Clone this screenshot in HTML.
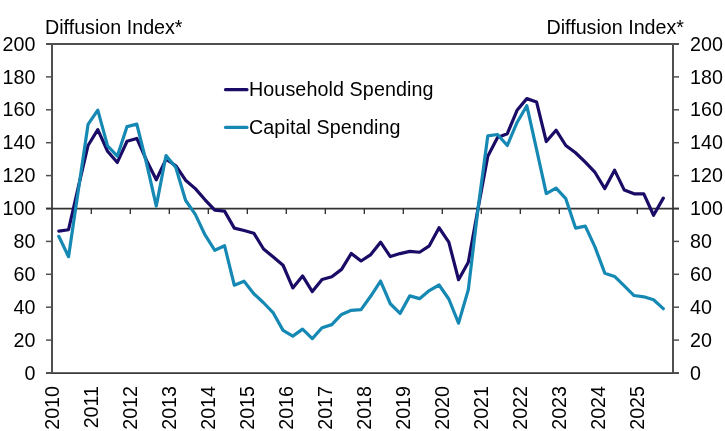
<!DOCTYPE html>
<html><head><meta charset="utf-8"><style>
html,body{margin:0;padding:0;background:#fff;width:725px;height:431px;overflow:hidden}
svg{display:block;position:absolute;left:0;top:0;will-change:transform}
text{font-family:"Liberation Sans",sans-serif;font-size:19.7px;fill:#000}
.yl{font-size:19.7px}
.xl{position:absolute;top:386px;transform-origin:0 0;transform:rotate(-90deg);font-family:"Liberation Sans",sans-serif;font-size:19.7px;line-height:1;white-space:nowrap;will-change:transform}
.xl span{display:inline-block;transform:translateX(-100%)}
</style></head><body>
<svg width="725" height="431" viewBox="0 0 725 431">
<line x1="46" y1="44" x2="679" y2="44" stroke="#505050" stroke-width="2"/>
<line x1="46" y1="373.2" x2="679" y2="373.2" stroke="#3A3A3A" stroke-width="1.7"/>
<line x1="52" y1="44" x2="52" y2="373" stroke="#505050" stroke-width="2"/>
<line x1="673" y1="44" x2="673" y2="373" stroke="#505050" stroke-width="2"/>
<line x1="46" y1="373.00" x2="52" y2="373.00" stroke="#505050" stroke-width="1.5"/>
<line x1="673" y1="373.00" x2="679" y2="373.00" stroke="#505050" stroke-width="1.5"/>
<text class="yl" transform="translate(35.4,379.60) scale(1,1.05)" text-anchor="end">0</text>
<text class="yl" transform="translate(690,379.60) scale(1,1.05)">0</text>
<line x1="46" y1="340.10" x2="52" y2="340.10" stroke="#505050" stroke-width="1.5"/>
<line x1="673" y1="340.10" x2="679" y2="340.10" stroke="#505050" stroke-width="1.5"/>
<text class="yl" transform="translate(35.4,346.70) scale(1,1.05)" text-anchor="end">20</text>
<text class="yl" transform="translate(690,346.70) scale(1,1.05)">20</text>
<line x1="46" y1="307.20" x2="52" y2="307.20" stroke="#505050" stroke-width="1.5"/>
<line x1="673" y1="307.20" x2="679" y2="307.20" stroke="#505050" stroke-width="1.5"/>
<text class="yl" transform="translate(35.4,313.80) scale(1,1.05)" text-anchor="end">40</text>
<text class="yl" transform="translate(690,313.80) scale(1,1.05)">40</text>
<line x1="46" y1="274.30" x2="52" y2="274.30" stroke="#505050" stroke-width="1.5"/>
<line x1="673" y1="274.30" x2="679" y2="274.30" stroke="#505050" stroke-width="1.5"/>
<text class="yl" transform="translate(35.4,280.90) scale(1,1.05)" text-anchor="end">60</text>
<text class="yl" transform="translate(690,280.90) scale(1,1.05)">60</text>
<line x1="46" y1="241.40" x2="52" y2="241.40" stroke="#505050" stroke-width="1.5"/>
<line x1="673" y1="241.40" x2="679" y2="241.40" stroke="#505050" stroke-width="1.5"/>
<text class="yl" transform="translate(35.4,248.00) scale(1,1.05)" text-anchor="end">80</text>
<text class="yl" transform="translate(690,248.00) scale(1,1.05)">80</text>
<line x1="46" y1="208.50" x2="52" y2="208.50" stroke="#505050" stroke-width="1.5"/>
<line x1="673" y1="208.50" x2="679" y2="208.50" stroke="#505050" stroke-width="1.5"/>
<text class="yl" transform="translate(35.4,215.10) scale(1,1.05)" text-anchor="end">100</text>
<text class="yl" transform="translate(690,215.10) scale(1,1.05)">100</text>
<line x1="46" y1="175.60" x2="52" y2="175.60" stroke="#505050" stroke-width="1.5"/>
<line x1="673" y1="175.60" x2="679" y2="175.60" stroke="#505050" stroke-width="1.5"/>
<text class="yl" transform="translate(35.4,182.20) scale(1,1.05)" text-anchor="end">120</text>
<text class="yl" transform="translate(690,182.20) scale(1,1.05)">120</text>
<line x1="46" y1="142.70" x2="52" y2="142.70" stroke="#505050" stroke-width="1.5"/>
<line x1="673" y1="142.70" x2="679" y2="142.70" stroke="#505050" stroke-width="1.5"/>
<text class="yl" transform="translate(35.4,149.30) scale(1,1.05)" text-anchor="end">140</text>
<text class="yl" transform="translate(690,149.30) scale(1,1.05)">140</text>
<line x1="46" y1="109.80" x2="52" y2="109.80" stroke="#505050" stroke-width="1.5"/>
<line x1="673" y1="109.80" x2="679" y2="109.80" stroke="#505050" stroke-width="1.5"/>
<text class="yl" transform="translate(35.4,116.40) scale(1,1.05)" text-anchor="end">160</text>
<text class="yl" transform="translate(690,116.40) scale(1,1.05)">160</text>
<line x1="46" y1="76.90" x2="52" y2="76.90" stroke="#505050" stroke-width="1.5"/>
<line x1="673" y1="76.90" x2="679" y2="76.90" stroke="#505050" stroke-width="1.5"/>
<text class="yl" transform="translate(35.4,83.50) scale(1,1.05)" text-anchor="end">180</text>
<text class="yl" transform="translate(690,83.50) scale(1,1.05)">180</text>
<line x1="46" y1="44.00" x2="52" y2="44.00" stroke="#505050" stroke-width="1.5"/>
<line x1="673" y1="44.00" x2="679" y2="44.00" stroke="#505050" stroke-width="1.5"/>
<text class="yl" transform="translate(35.4,50.60) scale(1,1.05)" text-anchor="end">200</text>
<text class="yl" transform="translate(690,50.60) scale(1,1.05)">200</text>
<line x1="46" y1="208.6" x2="679" y2="208.6" stroke="#333333" stroke-width="1.7"/>
<line x1="91.30" y1="208.6" x2="91.30" y2="214" stroke="#2A2A2A" stroke-width="1.3"/>
<line x1="130.30" y1="208.6" x2="130.30" y2="214" stroke="#2A2A2A" stroke-width="1.3"/>
<line x1="169.30" y1="208.6" x2="169.30" y2="214" stroke="#2A2A2A" stroke-width="1.3"/>
<line x1="208.30" y1="208.6" x2="208.30" y2="214" stroke="#2A2A2A" stroke-width="1.3"/>
<line x1="247.30" y1="208.6" x2="247.30" y2="214" stroke="#2A2A2A" stroke-width="1.3"/>
<line x1="286.30" y1="208.6" x2="286.30" y2="214" stroke="#2A2A2A" stroke-width="1.3"/>
<line x1="325.30" y1="208.6" x2="325.30" y2="214" stroke="#2A2A2A" stroke-width="1.3"/>
<line x1="364.30" y1="208.6" x2="364.30" y2="214" stroke="#2A2A2A" stroke-width="1.3"/>
<line x1="403.30" y1="208.6" x2="403.30" y2="214" stroke="#2A2A2A" stroke-width="1.3"/>
<line x1="442.30" y1="208.6" x2="442.30" y2="214" stroke="#2A2A2A" stroke-width="1.3"/>
<line x1="481.30" y1="208.6" x2="481.30" y2="214" stroke="#2A2A2A" stroke-width="1.3"/>
<line x1="520.30" y1="208.6" x2="520.30" y2="214" stroke="#2A2A2A" stroke-width="1.3"/>
<line x1="559.30" y1="208.6" x2="559.30" y2="214" stroke="#2A2A2A" stroke-width="1.3"/>
<line x1="598.30" y1="208.6" x2="598.30" y2="214" stroke="#2A2A2A" stroke-width="1.3"/>
<line x1="637.30" y1="208.6" x2="637.30" y2="214" stroke="#2A2A2A" stroke-width="1.3"/>
<polyline points="58.80,231.04 68.55,229.72 78.30,187.12 88.05,145.50 97.80,129.70 107.55,151.25 117.30,162.44 127.05,141.22 136.80,138.42 146.55,160.47 156.30,179.71 166.05,159.15 175.80,165.73 185.55,180.21 195.30,188.60 205.05,199.78 214.80,210.15 224.55,211.13 234.30,228.08 244.05,230.54 253.80,233.18 263.55,248.97 273.30,257.03 283.05,265.25 292.80,287.95 302.55,275.94 312.30,291.57 322.05,279.56 331.80,276.77 341.55,269.37 351.30,253.41 361.05,260.98 370.80,254.56 380.55,242.22 390.30,256.53 400.05,253.57 409.80,251.43 419.55,252.26 429.30,245.84 439.05,227.75 448.80,242.06 458.55,279.73 468.30,262.29 478.05,208.50 487.80,156.19 497.55,137.60 507.30,133.65 517.05,110.29 526.80,98.61 536.55,101.90 546.30,141.55 556.05,130.20 565.80,145.50 575.55,152.73 585.30,162.11 595.05,172.47 604.80,188.60 614.55,170.17 624.30,190.08 634.05,193.86 643.80,193.86 653.55,215.24 663.30,198.14" fill="none" stroke="#1A0C66" stroke-width="3.2" stroke-linejoin="round" stroke-linecap="round"/>
<polyline points="58.80,236.30 68.55,256.70 78.30,190.41 88.05,124.44 97.80,110.13 107.55,145.83 117.30,156.19 127.05,126.58 136.80,124.11 146.55,163.26 156.30,206.03 166.05,155.53 175.80,167.54 185.55,200.28 195.30,214.42 205.05,234.98 214.80,250.28 224.55,245.68 234.30,285.16 244.05,281.21 253.80,293.71 263.55,302.76 273.30,312.96 283.05,330.39 292.80,336.15 302.55,329.08 312.30,338.62 322.05,327.76 331.80,324.64 341.55,314.44 351.30,310.33 361.05,309.67 370.80,296.01 380.55,281.04 390.30,303.75 400.05,313.45 409.80,295.85 419.55,298.65 429.30,290.59 439.05,284.99 448.80,298.98 458.55,323.16 468.30,289.76 478.05,208.50 487.80,135.79 497.55,134.47 507.30,145.50 517.05,122.47 526.80,105.69 536.55,149.44 546.30,193.53 556.05,188.10 565.80,198.63 575.55,228.08 585.30,226.10 595.05,247.16 604.80,273.15 614.55,276.44 624.30,285.81 634.05,295.52 643.80,296.84 653.55,299.80 663.30,308.68" fill="none" stroke="#1589B4" stroke-width="3.2" stroke-linejoin="round" stroke-linecap="round"/>
<text x="45" y="34">Diffusion Index*</text>
<text x="684" y="34" text-anchor="end">Diffusion Index*</text>
<line x1="225.5" y1="89.7" x2="247" y2="89.7" stroke="#1A0C66" stroke-width="3.2" stroke-linecap="round"/>
<text x="249" y="95.7" letter-spacing="0.1">Household Spending</text>
<line x1="225.5" y1="127.4" x2="247" y2="127.4" stroke="#1589B4" stroke-width="3.2" stroke-linecap="round"/>
<text x="249" y="133.6" letter-spacing="0.1">Capital Spending</text>
</svg>
<div class="xl" style="left:43.30px"><span>2010</span></div>
<div class="xl" style="left:82.30px"><span>2011</span></div>
<div class="xl" style="left:121.30px"><span>2012</span></div>
<div class="xl" style="left:160.30px"><span>2013</span></div>
<div class="xl" style="left:199.30px"><span>2014</span></div>
<div class="xl" style="left:238.30px"><span>2015</span></div>
<div class="xl" style="left:277.30px"><span>2016</span></div>
<div class="xl" style="left:316.30px"><span>2017</span></div>
<div class="xl" style="left:355.30px"><span>2018</span></div>
<div class="xl" style="left:394.30px"><span>2019</span></div>
<div class="xl" style="left:433.30px"><span>2020</span></div>
<div class="xl" style="left:472.30px"><span>2021</span></div>
<div class="xl" style="left:511.30px"><span>2022</span></div>
<div class="xl" style="left:550.30px"><span>2023</span></div>
<div class="xl" style="left:589.30px"><span>2024</span></div>
<div class="xl" style="left:628.30px"><span>2025</span></div>
</body></html>
